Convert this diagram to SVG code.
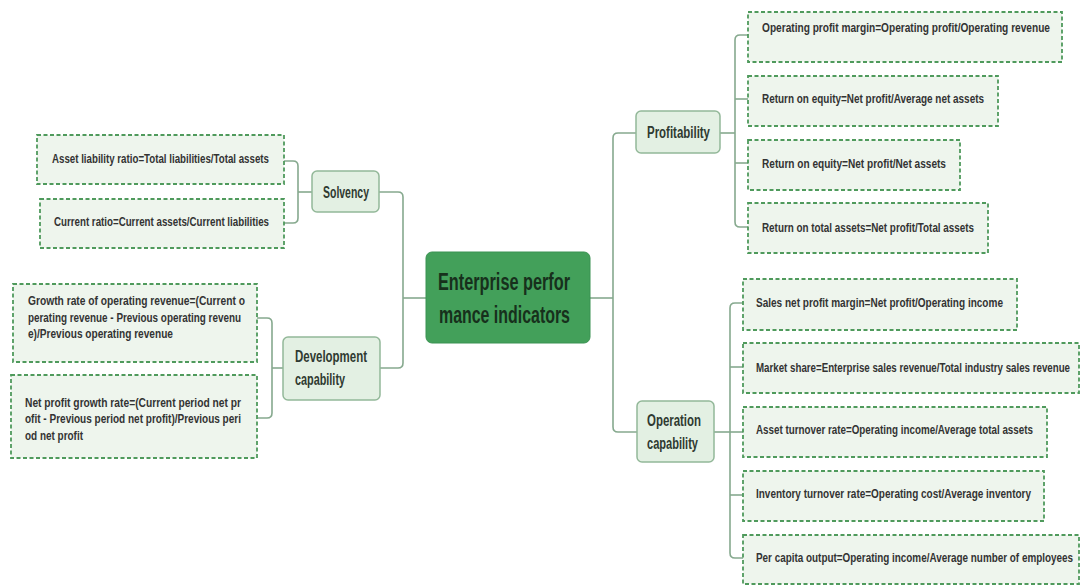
<svg xmlns="http://www.w3.org/2000/svg" width="1081" height="585" viewBox="0 0 1081 585">
<style>
  .bg { fill: #ffffff; }
  .conn { fill: none; stroke: #86a98e; stroke-width: 1.6; }
  .leaf { fill: #eef5ed; stroke: #4f9a5c; stroke-width: 1.8; stroke-dasharray: 4 2.5; }
  .sub { fill: #e3f0e3; stroke: #93b899; stroke-width: 1.5; }
  .root { fill: #43a05a; stroke: #3b9252; stroke-width: 1; }
  .lt { font-family: "Liberation Sans", Arial, sans-serif; font-size: 13px; font-weight: bold; fill: #333333; dominant-baseline: central; }
  .st { font-family: "Liberation Sans", Arial, sans-serif; font-size: 16px; font-weight: bold; fill: #2f3a31; dominant-baseline: central; }
  .rt { font-family: "Liberation Sans", Arial, sans-serif; font-size: 24px; font-weight: bold; fill: #17301c; dominant-baseline: central; }
</style>
<rect class="bg" x="0" y="0" width="1081" height="585"/>

<g id="connectors">
  <path class="conn" d="M426,298 H403"/>
  <path class="conn" d="M379,192 H398 Q403,192 403,197 V363 Q403,368 398,368 H380"/>
  <path class="conn" d="M312,192 H298"/>
  <path class="conn" d="M284,161 H293 Q298,161 298,166 V218 Q298,223 293,223 H284"/>
  <path class="conn" d="M283,368 H272"/>
  <path class="conn" d="M257,318 H267 Q272,318 272,323 V413 Q272,418 267,418 H257"/>
  <path class="conn" d="M590,298 H613"/>
  <path class="conn" d="M636,133 H618 Q613,133 613,138 V427 Q613,432 618,432 H637"/>
  <path class="conn" d="M720,133 H735"/>
  <path class="conn" d="M748,35 H740 Q735,35 735,40 V222 Q735,227 740,227 H748"/>
  <path class="conn" d="M735,99 H748"/>
  <path class="conn" d="M735,163 H748"/>
  <path class="conn" d="M714,432 H730"/>
  <path class="conn" d="M743,303 H735 Q730,303 730,308 V553 Q730,558 735,558 H743"/>
  <path class="conn" d="M730,367 H743"/>
  <path class="conn" d="M730,432 H743"/>
  <path class="conn" d="M730,495 H743"/>
</g>

<g id="root">
  <rect class="root" x="426" y="252" width="164" height="91" rx="6"/>
  <text class="rt" transform="translate(438,281) scale(0.7,1)" textLength="188.6" lengthAdjust="spacingAndGlyphs">Enterprise perfor</text>
  <text class="rt" transform="translate(439,314) scale(0.7,1)" textLength="187.1" lengthAdjust="spacingAndGlyphs">mance indicators</text>
</g>

<g id="solvency">
  <rect class="sub" x="312" y="171" width="67" height="41" rx="5"/>
  <text class="st" transform="translate(323,192) scale(0.75,1)" textLength="61.3" lengthAdjust="spacingAndGlyphs">Solvency</text>
</g>
<g id="development">
  <rect class="sub" x="283" y="337" width="97" height="63" rx="5"/>
  <text class="st" transform="translate(295,356) scale(0.75,1)" textLength="96" lengthAdjust="spacingAndGlyphs">Development</text>
  <text class="st" transform="translate(295,379) scale(0.75,1)" textLength="66.7" lengthAdjust="spacingAndGlyphs">capability</text>
</g>
<g id="profitability">
  <rect class="sub" x="636" y="111" width="84" height="42" rx="5"/>
  <text class="st" transform="translate(647,132) scale(0.75,1)" textLength="84" lengthAdjust="spacingAndGlyphs">Profitability</text>
</g>
<g id="operation">
  <rect class="sub" x="637" y="401" width="77" height="61" rx="5"/>
  <text class="st" transform="translate(647,420) scale(0.75,1)" textLength="72" lengthAdjust="spacingAndGlyphs">Operation</text>
  <text class="st" transform="translate(647,443) scale(0.75,1)" textLength="68" lengthAdjust="spacingAndGlyphs">capability</text>
</g>

<g id="asset-liability">
  <rect class="leaf" x="37" y="135" width="247" height="49"/>
  <text class="lt" transform="translate(52,158) scale(0.75,1)" textLength="289.3" lengthAdjust="spacingAndGlyphs">Asset liability ratio=Total liabilities/Total assets</text>
</g>
<g id="current-ratio">
  <rect class="leaf" x="40" y="199" width="244" height="49"/>
  <text class="lt" transform="translate(54,221) scale(0.75,1)" textLength="286.7" lengthAdjust="spacingAndGlyphs">Current ratio=Current assets/Current liabilities</text>
</g>
<g id="revenue-growth">
  <rect class="leaf" x="13" y="284" width="244" height="78"/>
  <text class="lt" transform="translate(28,300) scale(0.75,1)" textLength="289.3" lengthAdjust="spacingAndGlyphs">Growth rate of operating revenue=(Current o</text>
  <text class="lt" transform="translate(28,317) scale(0.75,1)" textLength="284" lengthAdjust="spacingAndGlyphs">perating revenue - Previous operating revenu</text>
  <text class="lt" transform="translate(28,333) scale(0.75,1)" textLength="193.3" lengthAdjust="spacingAndGlyphs">e)/Previous operating revenue</text>
</g>
<g id="profit-growth">
  <rect class="leaf" x="11" y="375" width="246" height="83"/>
  <text class="lt" transform="translate(25,402) scale(0.75,1)" textLength="288" lengthAdjust="spacingAndGlyphs">Net profit growth rate=(Current period net pr</text>
  <text class="lt" transform="translate(25,418) scale(0.75,1)" textLength="288" lengthAdjust="spacingAndGlyphs">ofit - Previous period net profit)/Previous peri</text>
  <text class="lt" transform="translate(25,435) scale(0.75,1)" textLength="77.3" lengthAdjust="spacingAndGlyphs">od net profit</text>
</g>

<g id="op-profit-margin">
  <rect class="leaf" x="748" y="12" width="314" height="50"/>
  <text class="lt" transform="translate(762,27) scale(0.75,1)" textLength="384" lengthAdjust="spacingAndGlyphs">Operating profit margin=Operating profit/Operating revenue</text>
</g>
<g id="roe-average">
  <rect class="leaf" x="748" y="76" width="250" height="50"/>
  <text class="lt" transform="translate(762,98) scale(0.75,1)" textLength="296" lengthAdjust="spacingAndGlyphs">Return on equity=Net profit/Average net assets</text>
</g>
<g id="roe-net">
  <rect class="leaf" x="748" y="140" width="212" height="50"/>
  <text class="lt" transform="translate(762,163) scale(0.75,1)" textLength="245.3" lengthAdjust="spacingAndGlyphs">Return on equity=Net profit/Net assets</text>
</g>
<g id="rota">
  <rect class="leaf" x="748" y="203" width="240" height="50"/>
  <text class="lt" transform="translate(762,227) scale(0.75,1)" textLength="282.7" lengthAdjust="spacingAndGlyphs">Return on total assets=Net profit/Total assets</text>
</g>

<g id="sales-margin">
  <rect class="leaf" x="743" y="279" width="274" height="51"/>
  <text class="lt" transform="translate(756,302) scale(0.75,1)" textLength="329.3" lengthAdjust="spacingAndGlyphs">Sales net profit margin=Net profit/Operating income</text>
</g>
<g id="market-share">
  <rect class="leaf" x="743" y="343" width="336" height="50"/>
  <text class="lt" transform="translate(756,367) scale(0.75,1)" textLength="418.7" lengthAdjust="spacingAndGlyphs">Market share=Enterprise sales revenue/Total industry sales revenue</text>
</g>
<g id="asset-turnover">
  <rect class="leaf" x="743" y="407" width="304" height="50"/>
  <text class="lt" transform="translate(756,429) scale(0.75,1)" textLength="369.3" lengthAdjust="spacingAndGlyphs">Asset turnover rate=Operating income/Average total assets</text>
</g>
<g id="inventory-turnover">
  <rect class="leaf" x="743" y="471" width="301" height="50"/>
  <text class="lt" transform="translate(756,493) scale(0.75,1)" textLength="366.7" lengthAdjust="spacingAndGlyphs">Inventory turnover rate=Operating cost/Average inventory</text>
</g>
<g id="per-capita">
  <rect class="leaf" x="743" y="535" width="336" height="49"/>
  <text class="lt" transform="translate(756,557) scale(0.75,1)" textLength="422.7" lengthAdjust="spacingAndGlyphs">Per capita output=Operating income/Average number of employees</text>
</g>
</svg>
